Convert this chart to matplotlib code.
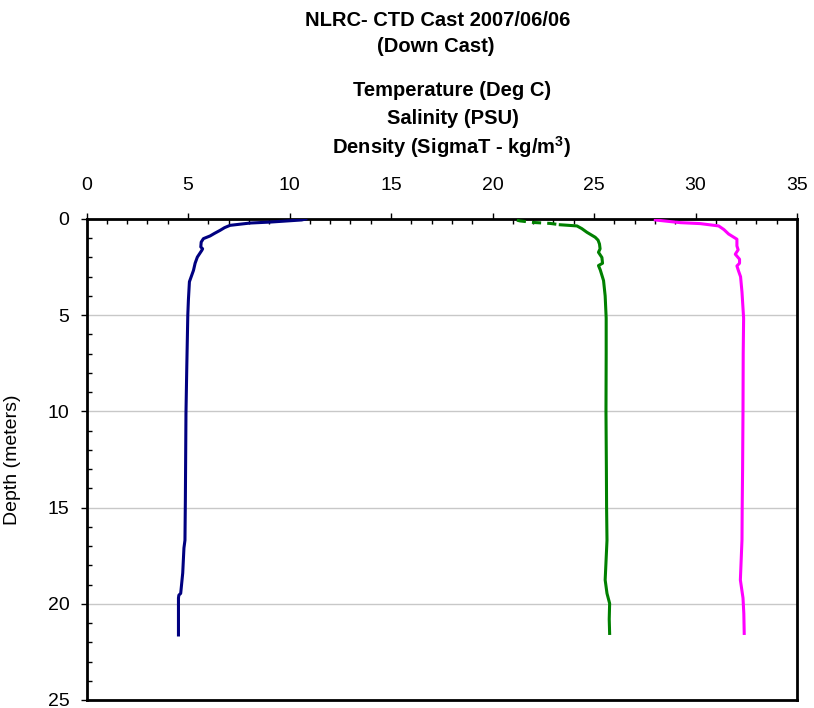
import matplotlib
matplotlib.use("Agg")
import matplotlib.pyplot as plt
from matplotlib.ticker import MultipleLocator

# ---- data ----
temp_depth = [0.0, 0.05, 0.16, 0.21, 0.33, 0.45, 0.59, 0.75, 0.88, 1.02, 1.2, 1.45, 1.55, 1.63,
              1.98, 2.3, 2.67, 3.26, 4.2, 5.0, 7.7, 10.1, 14.6, 16.7, 17.1, 18.4, 19.46, 19.55,
              19.7, 20.5, 21.62]
temp = [10.8, 10.6, 9.04, 8.06, 7.07, 6.8, 6.58, 6.3, 6.09, 5.76, 5.65, 5.63, 5.72, 5.68,
        5.46, 5.35, 5.27, 5.07, 5.02, 4.99, 4.94, 4.9, 4.87, 4.85, 4.8, 4.74, 4.64, 4.55,
        4.53, 4.53, 4.53]

dens_surf_depth = [0.06, 0.1, 0.18, 0.23, 0.3]
dens_surf = [21.2, 21.36, 22.02, 22.84, 23.34]
dens_depth = [0.3, 0.36, 0.5, 0.69, 0.95, 1.1, 1.3, 1.55, 1.73, 2.0, 2.3, 2.42, 2.65, 3.2,
              4.0, 5.15, 7.0, 10.0, 13.0, 15.0, 16.7, 18.76, 19.46, 19.98, 20.8, 21.54]
dens = [23.34, 24.16, 24.4, 24.65, 25.06, 25.2, 25.27, 25.3, 25.22, 25.39, 25.42, 25.22, 25.31,
        25.47, 25.55, 25.6, 25.6, 25.59, 25.61, 25.62, 25.64, 25.55, 25.64, 25.77, 25.75, 25.77]

sal_depth = [0.05, 0.19, 0.24, 0.36, 0.55, 0.78, 1.05, 1.4, 1.6, 1.83, 2.09, 2.3, 2.44, 2.7,
             3.0, 3.8, 5.15, 7.0, 10.0, 13.0, 15.0, 16.68, 18.76, 19.7, 20.5, 21.54]
sal = [28.02, 29.25, 30.24, 31.14, 31.4, 31.63, 32.04, 32.04, 32.1, 31.96, 32.17, 32.17, 32.04,
       32.12, 32.22, 32.29, 32.37, 32.35, 32.34, 32.32, 32.3, 32.29, 32.21, 32.34, 32.38, 32.4]

title_lines = ["NLRC- CTD Cast 2007/06/06", "(Down Cast)"]
axis_title_lines = ["Temperature (Deg C)", "Salinity (PSU)", r"Density (SigmaT - kg/m$^{3}$)"]
y_label = "Depth (meters)"

# ---- styling ----
plt.rcParams["font.family"] = ["Liberation Sans", "DejaVu Sans"]
plt.rcParams["mathtext.fontset"] = "custom"
plt.rcParams["mathtext.rm"] = "Liberation Sans:bold"
plt.rcParams["mathtext.it"] = "Liberation Sans:bold"
plt.rcParams["mathtext.bf"] = "Liberation Sans:bold"

W, H = 814, 708
fig = plt.figure(figsize=(W / 100, H / 100), dpi=100)
fig.patch.set_facecolor("white")

left, right, top, bottom = 86.5, 797, 219, 700
ax = fig.add_axes([left / W, 1 - bottom / H, (right - left) / W, (bottom - top) / H])

ax.plot(temp, temp_depth, color="#000080", lw=2.2, zorder=3)
ax.plot(dens_surf, dens_surf_depth, color="#008000", lw=2.2, ls=(0, (3, 2)), zorder=3)
ax.plot(dens, dens_depth, color="#008000", lw=2.2, zorder=3)
ax.plot(sal, sal_depth, color="#FF00FF", lw=2.2, zorder=3)

ax.set_xlim(0, 35)
ax.set_ylim(25, 0)
ax.xaxis.tick_top()
ax.xaxis.set_major_locator(MultipleLocator(5))
ax.xaxis.set_minor_locator(MultipleLocator(1))
ax.yaxis.set_major_locator(MultipleLocator(5))
ax.yaxis.set_minor_locator(MultipleLocator(1))

ax.tick_params(axis="x", which="major", direction="out", length=4.2, width=1.0,
               labelsize=14, pad=14, top=True, bottom=False)
ax.tick_params(axis="x", which="minor", direction="in", length=3.6, width=1.0,
               top=True, bottom=False)
ax.tick_params(axis="y", which="major", direction="out", length=4.3, width=1.0,
               labelsize=14, pad=8, left=True, right=False)
ax.tick_params(axis="y", which="minor", direction="in", length=3.6, width=1.0,
               left=True, right=False)

for s in ax.spines.values():
    s.set_linewidth(2.0)
    s.set_color("black")

ax.yaxis.grid(True, which="major", color="#c8c8c8", lw=1.0, zorder=0)
ax.set_axisbelow(True)

ax.set_ylabel(y_label, fontsize=14)
ax.yaxis.set_label_coords((21 - left) / (right - left), 0.5)

# titles
ty = [20, 47]
tx = [438, 436]
for t, x, y in zip(title_lines, tx, ty):
    fig.text(x / W, 1 - y / H, t, ha="center", va="center", fontsize=14.5, fontweight="bold")
ay = [91, 118, 147]
axx = [452, 453, 451]
for t, x, y in zip(axis_title_lines, axx, ay):
    fig.text(x / W, 1 - y / H, t, ha="center", va="center", fontsize=14.5, fontweight="bold")

fig.savefig("out.png", dpi=100, facecolor="white")
